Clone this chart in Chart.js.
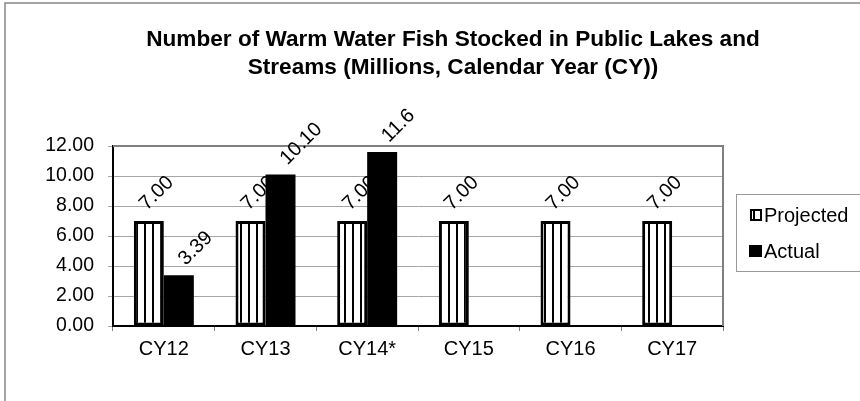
<!DOCTYPE html>
<html>
<head>
<meta charset="utf-8">
<script src="https://cdn.jsdelivr.net/npm/chart.js@4"></script>
<style>
  html, body { margin: 0; padding: 0; background: #fff; overflow: hidden; }
</style>
</head>
<body>
<canvas id="fish-chart" width="860" height="401"></canvas>
<script>
// chart data
const categories = ['CY12', 'CY13', 'CY14*', 'CY15', 'CY16', 'CY17'];
const projected = [7.00, 7.00, 7.00, 7.00, 7.00, 7.00];
const actual = [3.39, 10.10, 11.6, null, null, null];
const projectedLabels = ['7.00', '7.00', '7.00', '7.00', '7.00', '7.00'];
const actualLabels = ['3.39', '10.10', '11.6', '', '', ''];
const titleLines = ['Number of Warm Water Fish Stocked in Public Lakes and', 'Streams (Millions, Calendar Year (CY))'];
const yTicks = [0, 2, 4, 6, 8, 10, 12];

const FONT = "'Liberation Sans', Arial, sans-serif";

// vertical stripe fill like the Excel pattern
function stripePattern() {
    const c = document.createElement('canvas');
    c.width = 8; c.height = 8;
    const g = c.getContext('2d');
    g.fillStyle = '#fff';
    g.fillRect(0, 0, 8, 8);
    g.fillStyle = '#000';
    g.fillRect(0, 0, 2, 8);
    return g.createPattern(c, 'repeat');
}

// where the rotated value label starts, per series
const labelShift = [[-6, -14], [3, -13]];

// frame, plot border, title, rotated value labels and legend
const decorPlugin = {
    id: 'decor',
    beforeDraw(chart) {
        const ctx = chart.ctx;
        ctx.save();
        ctx.fillStyle = '#fff';
        ctx.fillRect(0, 0, chart.width, chart.height);
        ctx.strokeStyle = '#888';
        ctx.lineWidth = 1.5;
        ctx.beginPath();
        ctx.moveTo(5, chart.height);
        ctx.lineTo(5, 3);
        ctx.lineTo(chart.width, 3);
        ctx.stroke();
        ctx.restore();
    },
    afterDatasetsDraw(chart) {
        const ctx = chart.ctx;
        const area = chart.chartArea;
        ctx.save();
        // top and right border of plot area
        ctx.strokeStyle = '#808080';
        ctx.lineWidth = 2;
        ctx.beginPath();
        ctx.moveTo(area.left, area.top);
        ctx.lineTo(area.right, area.top);
        ctx.lineTo(area.right, area.bottom);
        ctx.stroke();

        // title
        ctx.fillStyle = '#000';
        ctx.font = 'bold 22.6px ' + FONT;
        ctx.textAlign = 'center';
        ctx.textBaseline = 'middle';
        ctx.fillText(titleLines[0], 453, 40);
        ctx.fillText(titleLines[1], 453, 68);

        // value labels rotated 45 degrees
        ctx.font = '20px ' + FONT;
        ctx.textAlign = 'left';
        ctx.textBaseline = 'middle';
        chart.data.datasets.forEach((ds, di) => {
            const meta = chart.getDatasetMeta(di);
            meta.data.forEach((bar, i) => {
                const v = ds.data[i];
                if (v === null || v === undefined) return;
                ctx.save();
                ctx.translate(bar.x + labelShift[di][0], bar.y + labelShift[di][1]);
                ctx.rotate(-Math.PI / 4);
                ctx.fillText(ds.valueLabels[i], 0, 0);
                ctx.restore();
            });
        });

        // legend box
        const lx = 736, ly = 194, lw = 140, lh = 77;
        ctx.strokeStyle = '#999';
        ctx.lineWidth = 1;
        ctx.strokeRect(lx + 0.5, ly + 0.5, lw, lh);
        ctx.font = '20px ' + FONT;
        ctx.textBaseline = 'middle';
        chart.data.datasets.forEach((ds, di) => {
            const cy = 215 + di * 36;
            if (di === 0) {
                ctx.fillStyle = '#fff';
                ctx.fillRect(751, cy - 5, 10, 10);
                ctx.fillStyle = '#000';
                ctx.fillRect(753, cy - 5, 2, 10);
                ctx.strokeStyle = '#000';
                ctx.lineWidth = 2;
                ctx.strokeRect(751, cy - 5, 10, 10);
            } else {
                ctx.fillStyle = '#000';
                ctx.fillRect(749, cy - 6, 13, 12);
            }
            ctx.fillStyle = '#000';
            ctx.fillText(ds.label, 764, cy + 1);
        });
        ctx.restore();
    }
};

const ctx = document.getElementById('fish-chart').getContext('2d');
new Chart(ctx, {
    type: 'bar',
    data: {
        labels: categories,
        datasets: [{
            label: 'Projected',
            data: projected,
            valueLabels: projectedLabels,
            backgroundColor: stripePattern(),
            borderColor: '#000',
            borderWidth: 3,
            borderSkipped: false,
            categoryPercentage: 0.59,
            barPercentage: 1.0
        }, {
            label: 'Actual',
            data: actual,
            valueLabels: actualLabels,
            backgroundColor: '#000',
            borderColor: '#000',
            borderWidth: 0,
            categoryPercentage: 0.59,
            barPercentage: 1.0
        }]
    },
    options: {
        responsive: false,
        animation: false,
        devicePixelRatio: 1,
        layout: { padding: { top: 146, left: 0, right: 137, bottom: 0 } },
        plugins: {
            legend: { display: false },
            title: { display: false },
            tooltip: { enabled: false }
        },
        scales: {
            x: {
                offset: true,
                grid: { display: true, drawOnChartArea: false, offset: true, color: '#808080', tickLength: 5 },
                border: { color: '#000', width: 2 },
                ticks: { color: '#000', font: { family: FONT, size: 20 }, padding: 6 },
                afterFit(scale) { scale.height = 75; }
            },
            y: {
                min: 0,
                max: 12,
                afterBuildTicks(scale) { scale.ticks = yTicks.map(v => ({ value: v })); },
                grid: { color: '#a6a6a6', tickLength: 5 },
                border: { color: '#000', width: 2 },
                ticks: {
                    color: '#000',
                    font: { family: FONT, size: 19.5 },
                    padding: 14,
                    callback: v => Number(v).toFixed(2)
                },
                afterFit(scale) { scale.width = 113; }
            }
        }
    },
    plugins: [decorPlugin]
});
</script>
</body>
</html>
